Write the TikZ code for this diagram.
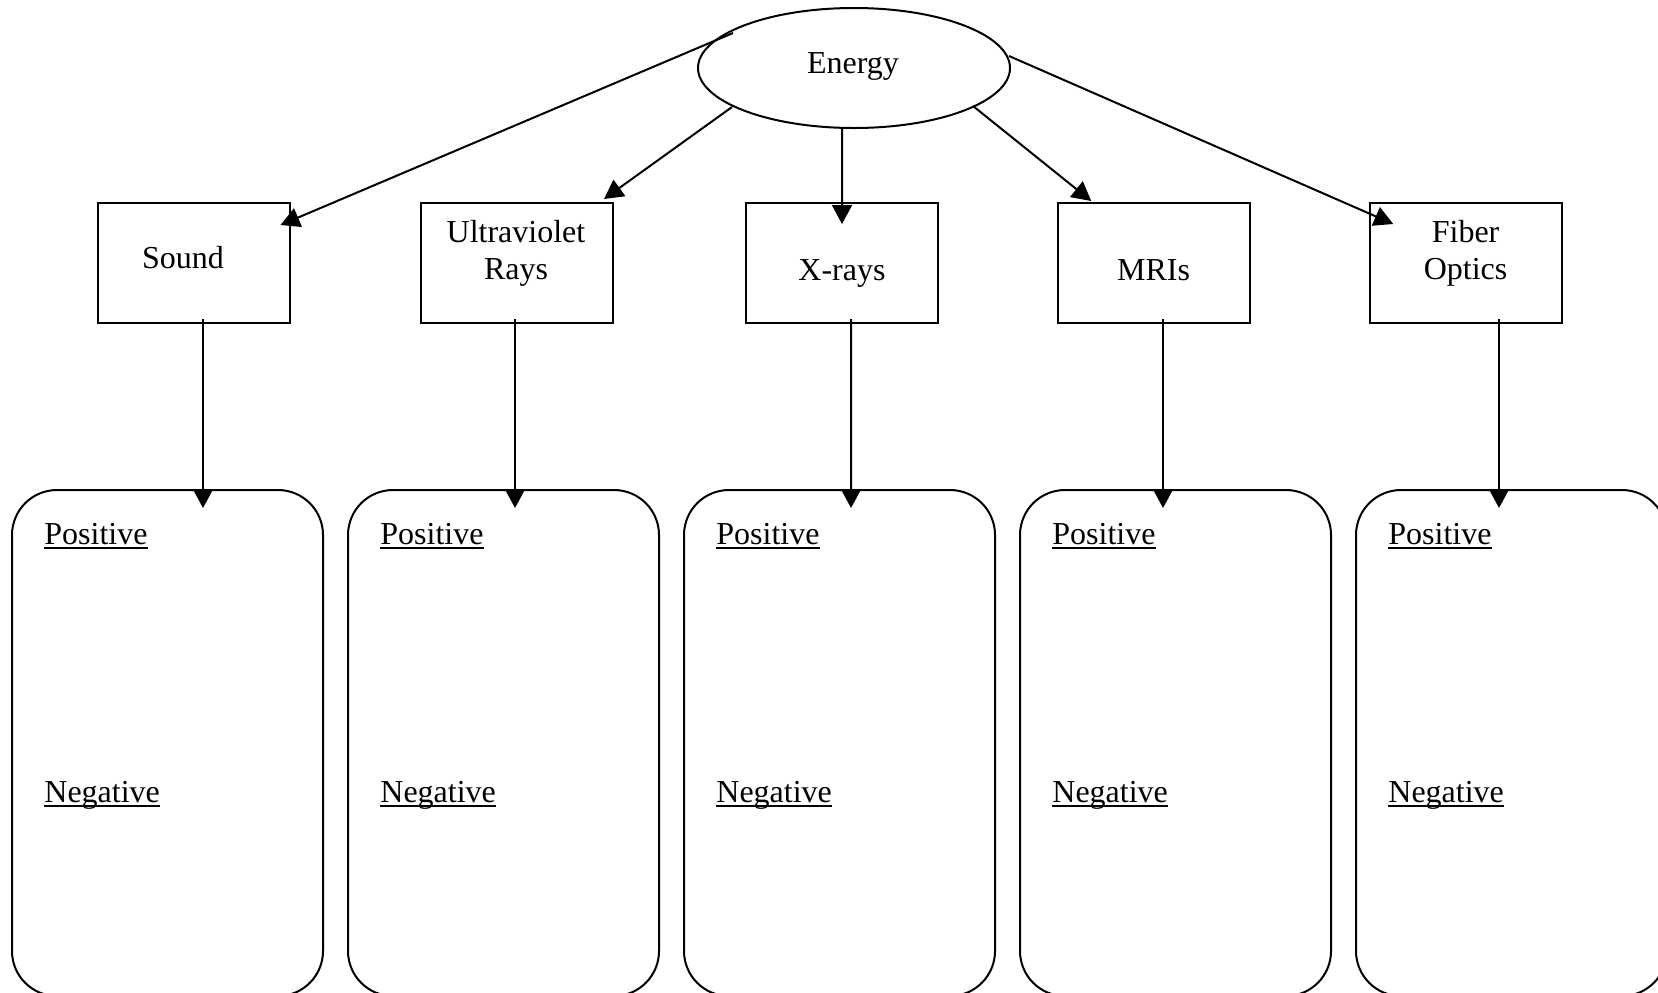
\documentclass[tikz,border=0pt]{standalone}
\usepackage{fontspec}
\setmainfont{Liberation Serif}
\usetikzlibrary{arrows.meta,calc,shapes.geometric}
\newcommand\myul[1]{\setbox0\hbox{#1}\rlap{\rule[-2.6pt]{\wd0}{1pt}}\box0}
\begin{document}
\begin{tikzpicture}[x=0.5pt,y=-0.5pt,
  every node/.style={font=\fontsize{16pt}{18.5pt}\selectfont},
  arr/.style={line width=1pt, -{Triangle[length=9.5pt,width=10pt]}},
  topic/.style={draw, line width=1pt, minimum width=96pt, minimum height=60pt, inner sep=0pt},
  pane/.style={draw, line width=1pt, rounded corners=22.5pt, minimum width=155.5pt, minimum height=253pt, inner sep=0pt},
  lbl/.style={align=center, inner sep=0pt},
  pn/.style={anchor=base west, inner sep=0pt}]
\useasboundingbox (0,0) rectangle (1658,992);
\clip (0,0) rectangle (1658,992);

% top ellipse
\node[ellipse, draw, line width=1pt, minimum width=156pt, minimum height=60pt, inner sep=0pt] (energy) at (854,68) {};
\node[lbl, anchor=base] (energyt) at (853,73) {Energy};

% topic boxes
\node[topic] (sound) at (193.5,263) {};
\node[topic] (uv) at (517,263) {};
\node[topic] (xray) at (841.7,263) {};
\node[topic] (mri) at (1153.6,263) {};
\node[topic] (fiber) at (1465.5,263) {};

\node[lbl, anchor=base] (soundt) at (183,268.5) {Sound};
\node[lbl] (uvt) at (516,253) {Ultraviolet\\Rays};
\node[lbl, anchor=base] (xrayt) at (842,280) {X-rays};
\node[lbl, anchor=base] (mrit) at (1153.6,280) {MRIs};
\node[lbl] (fibert) at (1465.6,253) {Fiber\\Optics};

% bottom panes
\foreach \i/\cx in {1/167.5, 2/503.5, 3/839.5, 4/1175.5, 5/1511.5} {
  \node[pane] (p\i) at (\cx,743) {};
  \node[pn] (pos\i) at ($(p\i.north west)+(33,55)$) {\myul{Positive}};
  \node[pn] (neg\i) at ($(p\i.north west)+(33,313)$) {\myul{Negative}};
}

% arrows from Energy
\draw[arr] ($(energy.center)+(-121,-35)$) -- ($(sound.north east)+(-10,23)$);
\draw[arr] ($(energy.center)+(-122,39)$) -- ($(uv.north east)+(-10,-3)$);
\draw[arr] ($(energy.south)+(-12,0)$) -- ($(xray.north)+(0.3,22)$);
\draw[arr] ($(energy.center)+(119,38)$) -- ($(mri.north west)+(34.6,-1)$);
\draw[arr] ($(energy.center)+(155,-12)$) -- ($(fiber.north west)+(24.7,22)$);

% arrows down to panes
\draw[arr] ($(sound.south)+(9.5,-5)$) -- ($(p1.north)+(35.5,19)$);
\draw[arr] ($(uv.south)+(-2,-5)$) -- ($(p2.north)+(11.5,19)$);
\draw[arr] ($(xray.south)+(9.3,-5)$) -- ($(p3.north)+(11.5,19)$);
\draw[arr] ($(mri.south)+(9.4,-5)$) -- ($(p4.north)+(-12.5,19)$);
\draw[arr] ($(fiber.south)+(33.5,-5)$) -- ($(p5.north)+(-12.5,19)$);
\end{tikzpicture}
\end{document}
